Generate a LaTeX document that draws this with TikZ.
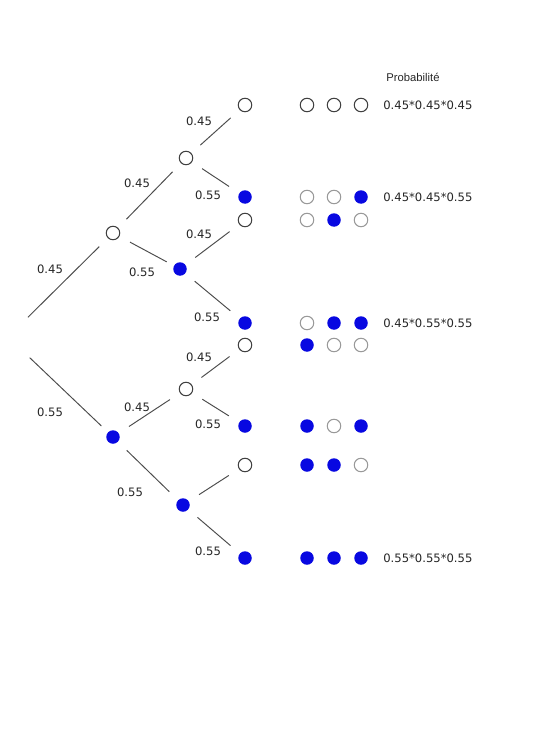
\documentclass[tikz,border=0pt]{standalone}
\usepackage{fontspec}
\setmainfont{DejaVu Sans}
\newfontfamily\helv{Liberation Sans}
\usepackage{tikz}
\usetikzlibrary{positioning}
\definecolor{ballblue}{RGB}{8,8,225}

\begin{document}
\begin{tikzpicture}[
    x=0.02cm, y=-0.02cm,
    ball/.style={circle, minimum size=0.27cm, inner sep=0pt},
    empty/.style={ball, draw=black!75, line width=0.6pt, fill=white},
    pale/.style={ball, draw=black!40, line width=0.6pt, fill=white},
    full/.style={ball, fill=ballblue},
    prob/.style={font=\fontsize{6.6}{8}\selectfont, text=black!85, inner sep=0pt},
    branch/.style={draw=black!70, line width=0.55pt, shorten <=0.24cm, shorten >=0.24cm}
]
\useasboundingbox (0,0) rectangle (536,750);

% Tree
\coordinate (root) at (8,337);
\node[empty] (a) at (113,233) {};
\node[full] (b) at (113,437) {};
\node[empty] (aa) at (186,158) {};
\node[full] (ab) at (180,269) {};
\node[empty] (ba) at (186,389) {};
\node[full] (bb) at (183,505) {};

% Leaves
\node[empty] (l1) at (245,105) {};
\node[full] (l2) at (245,197) {};
\node[empty] (l3) at (245,220) {};
\node[full] (l4) at (245,323) {};
\node[empty] (l5) at (245,345) {};
\node[full] (l6) at (245,426) {};
\node[empty] (l7) at (245,465) {};
\node[full] (l8) at (245,558) {};

% Branches
\draw[branch, shorten <=0.56cm] (root) -- (a);
\draw[branch, shorten <=0.6cm, shorten >=0.18cm] (root) -- (b);
\draw[branch] (a) -- (aa);
\draw[branch, shorten >=0.16cm] (a) -- (ab);
\draw[branch] (b) -- (ba);
\draw[branch] (b) -- (bb);
\draw[branch] (aa) -- (l1);
\draw[branch] (aa) -- (l2);
\draw[branch] (ab) -- (l3);
\draw[branch] (ab) -- (l4);
\draw[branch] (ba) -- (l5);
\draw[branch] (ba) -- (l6);
\draw[branch] (bb) -- (l7);
\draw[branch] (bb) -- (l8);

% Branch probabilities
\node[prob] (p1) at (50,269) {0.45};
\node[prob] (p2) at (50,412) {0.55};
\node[prob] (p3) at (137,183) {0.45};
\node[prob] (p4) at (142,272) {0.55};
\node[prob] (p5) at (137,407) {0.45};
\node[prob] (p6) at (130,492) {0.55};
\node[prob] (p7) at (199,121) {0.45};
\node[prob] (p8) at (208,195) {0.55};
\node[prob] (p9) at (199,234) {0.45};
\node[prob] (p10) at (207,317) {0.55};
\node[prob] (p11) at (199,357) {0.45};
\node[prob] (p12) at (208,424) {0.55};
\node[prob] (p13) at (208,551) {0.55};

% Outcomes
\node[empty] (r1a) at (307,105) {};
\node[empty] (r1b) at (334,105) {};
\node[empty] (r1c) at (361,105) {};
\node[pale] (r2a) at (307,197) {};
\node[pale] (r2b) at (334,197) {};
\node[full] (r2c) at (361,197) {};
\node[pale] (r3a) at (307,220) {};
\node[full] (r3b) at (334,220) {};
\node[pale] (r3c) at (361,220) {};
\node[pale] (r4a) at (307,323) {};
\node[full] (r4b) at (334,323) {};
\node[full] (r4c) at (361,323) {};
\node[full] (r5a) at (307,345) {};
\node[pale] (r5b) at (334,345) {};
\node[pale] (r5c) at (361,345) {};
\node[full] (r6a) at (307,426) {};
\node[pale] (r6b) at (334,426) {};
\node[full] (r6c) at (361,426) {};
\node[full] (r7a) at (307,465) {};
\node[full] (r7b) at (334,465) {};
\node[pale] (r7c) at (361,465) {};
\node[full] (r8a) at (307,558) {};
\node[full] (r8b) at (334,558) {};
\node[full] (r8c) at (361,558) {};

% Probability column
\node[prob, font=\helv\fontsize{6.4}{8}\selectfont] (title) at (413,77) {Probabilit\'e};
\node[prob, anchor=west] (q1) at (383,105) {0.45*0.45*0.45};
\node[prob, anchor=west] (q2) at (383,197) {0.45*0.45*0.55};
\node[prob, anchor=west] (q4) at (383,323) {0.45*0.55*0.55};
\node[prob, anchor=west] (q8) at (383,558) {0.55*0.55*0.55};

\end{tikzpicture}
\end{document}
